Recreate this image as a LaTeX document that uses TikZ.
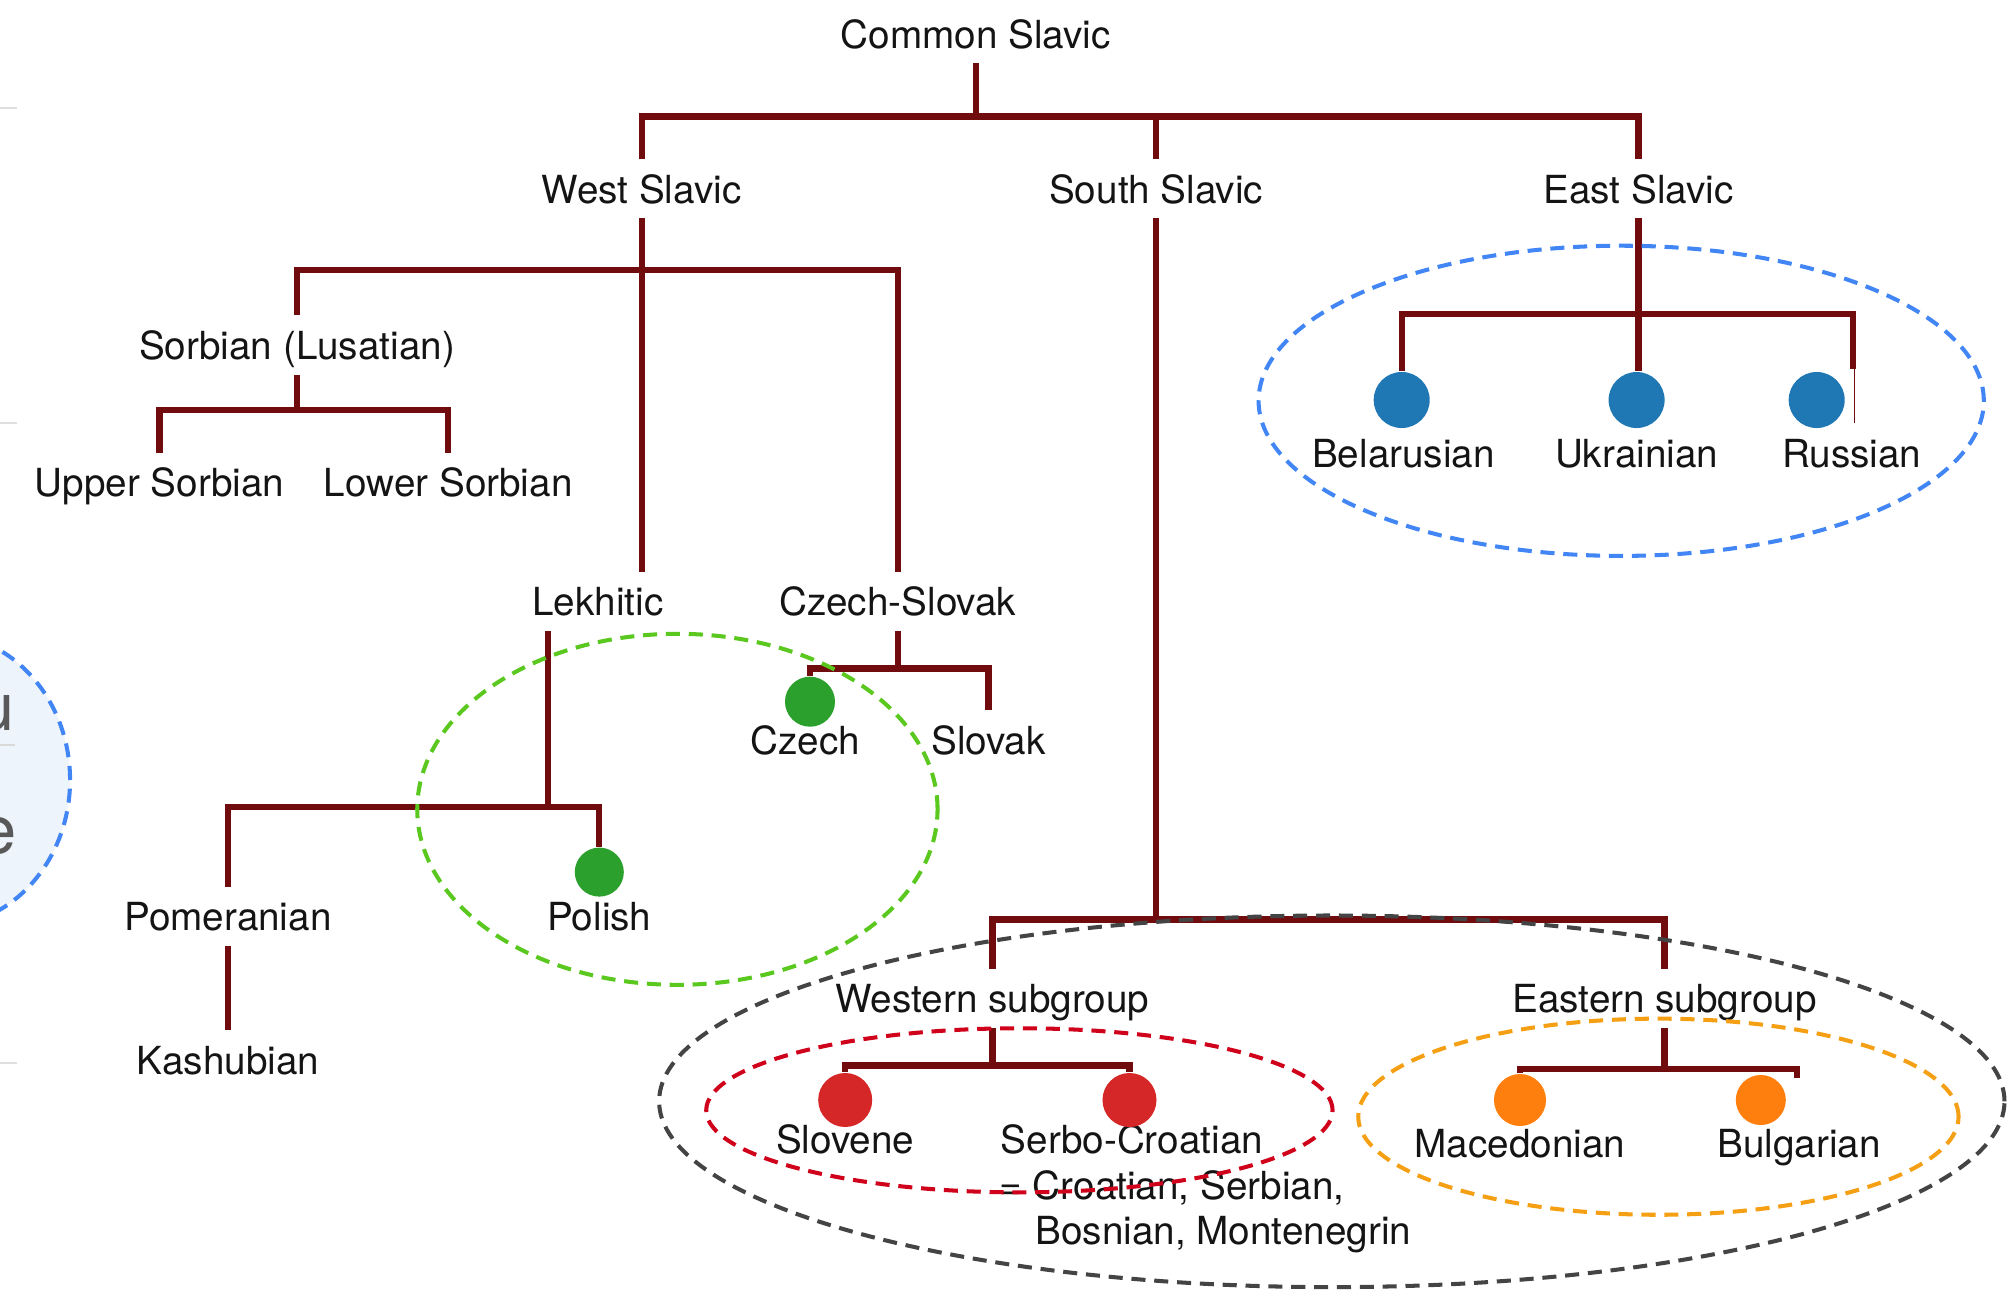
\documentclass[tikz,border=0pt]{standalone}
\usepackage{fontspec}
\setmainfont{TeX Gyre Heros}
\definecolor{tree}{RGB}{112,12,14}
\definecolor{dblue}{RGB}{31,119,180}
\definecolor{dgreen}{RGB}{44,160,44}
\definecolor{dred}{RGB}{214,39,40}
\definecolor{dorange}{RGB}{255,127,14}
\definecolor{eblue}{RGB}{66,133,244}
\definecolor{egreen}{RGB}{90,200,30}
\definecolor{ered}{RGB}{208,2,27}
\definecolor{eorange}{RGB}{245,160,20}
\definecolor{egray}{RGB}{68,68,68}
\definecolor{lightbg}{RGB}{238,244,251}
\tikzset{
  lbl/.style={font=\fontsize{11}{13}\selectfont, text=black!92, anchor=base,
    inner xsep=2pt, inner ysep=4pt, text height=8.4pt, text depth=0pt},
  lblw/.style={lbl, anchor=base west, inner xsep=0pt},
  branch/.style={draw=tree, line width=1.75pt},
  langdot/.style={circle, inner sep=0pt, minimum size=#1},
  grp/.style={dash pattern=on 4pt off 2.5pt, line width=1.15pt},
  edgetxt/.style={font=\fontsize{19}{22}\selectfont, text=black!65, inner sep=0pt, anchor=base east},
}
\begin{document}
\begin{tikzpicture}[x=0.01cm, y=-0.01cm]
\useasboundingbox (0,0) rectangle (2008,1290);

% partial item at the left edge
\begin{scope}
  \clip (0,0) rectangle (2008,1290);
  \draw[grp, draw=eblue, fill=lightbg] (-60,780) ellipse [x radius=1.30cm, y radius=1.46cm];
  \node[edgetxt] (lu) at (15,730) {u};
  \node[edgetxt] (le) at (17,853) {e};
  \draw[black!15, line width=0.5pt] (0,745) -- (15,745);
\end{scope}
\draw[black!12, line width=0.6pt] (0,108) -- (17,108);
\draw[black!12, line width=0.6pt] (0,423) -- (17,423);
\draw[black!12, line width=0.6pt] (0,1063) -- (17,1063);

% labels
\node[lbl] (cs) at (975.8,48.6) {Common Slavic};
\node[lbl] (ws) at (641.6,203.5) {West Slavic};
\node[lbl] (ss) at (1156.2,203.5) {South Slavic};
\node[lbl] (es) at (1638.5,203.5) {East Slavic};
\node[lbl] (sorb) at (297.1,359.8) {Sorbian (Lusatian)};
\node[lbl] (us) at (159.5,496.8) {Upper Sorbian};
\node[lbl] (ls) at (448.2,496.8) {Lower Sorbian};
\node[lbl] (lek) at (598,615.9) {Lekhitic};
\node[lbl] (czs) at (897.7,615.9) {Czech-Slovak};
\node[lbl] (pom) at (227.9,930.9) {Pomeranian};
\node[lbl] (pol) at (599.3,930.9) {Polish};
\node[lbl] (kash) at (227.9,1074) {Kashubian};
\node[lbl] (cz) at (805.5,754.2) {Czech};
\node[lbl] (sk) at (988.5,754.2) {Slovak};
\node[lbl] (wsg) at (992.5,1012.9) {Western subgroup};
\node[lbl] (esg) at (1664.5,1012.9) {Eastern subgroup};
\node[lbl] (slo) at (845.2,1153.7) {Slovene};
\node[lbl] (sc) at (1132,1153.7) {Serbo-Croatian};
\node[lblw] (sc2) at (998.9,1199.5) {= Croatian, Serbian,};
\node[lblw] (sc3) at (1034.7,1244.5) {Bosnian, Montenegrin};
\node[lbl] (mac) at (1520,1157.6) {Macedonian};
\node[lbl] (bul) at (1799.2,1157.6) {Bulgarian};
\node[lbl] (bel) at (1403.5,467.3) {Belarusian};
\node[lbl] (ukr) at (1636.6,467.3) {Ukrainian};
\node[lbl] (rus) at (1851.7,467.3) {Russian};

% dots
\node[langdot=0.50cm, fill=dgreen] (czdot) at (810,701.7) {};
\node[langdot=0.49cm, fill=dgreen] (poldot) at (599.3,872.1) {};
\node[langdot=0.54cm, fill=dred] (slodot) at (845.2,1100) {};
\node[langdot=0.54cm, fill=dred] (scdot) at (1129.5,1100) {};
\node[langdot=0.52cm, fill=dorange] (macdot) at (1520,1100) {};
\node[langdot=0.50cm, fill=dorange] (buldot) at (1760.8,1100) {};
\node[langdot=0.56cm, fill=dblue] (beldot) at (1401.7,400) {};
\node[langdot=0.56cm, fill=dblue] (ukrdot) at (1636.6,400) {};
\node[langdot=0.56cm, fill=dblue] (rusdot) at (1816.7,400) {};

% junctions
\coordinate (j0) at (975.8,116.5);
\coordinate (j1) at (641.6,270.2);
\coordinate (j2) at (297.1,409.8);
\coordinate (j3) at (548.1,806.8);
\coordinate (j4) at (897.7,668.5);
\coordinate (j5) at (1156.2,919.5);
\coordinate (j6) at (992.5,1065.5);
\coordinate (j7) at (1664.5,1069.3);
\coordinate (j8) at (1638.5,313.7);
\coordinate (bultick) at (1796.7,1078);
\coordinate (rusend) at (1852.7,369.3);
\coordinate (rusthin) at (1854.6,422.7);

% tree
\draw[branch] (cs.south) -- (j0);
\draw[branch] (ws.north) |- (j0) -| (es.north);
\draw[branch] (j0) -| (ss.north);

\draw[branch] (ws.south) -- (ws.south |- lek.north);
\draw[branch] (sorb.north) |- (j1) -| (czs.north);

\draw[branch] (sorb.south) -- (j2);
\draw[branch] (us.north) |- (j2) -| (ls.north);

\draw[branch] (lek.south -| j3) -- (j3);
\draw[branch] (pom.north) |- (j3) -| (poldot.north);
\draw[branch] (pom.south) -- (kash.north);

\draw[branch] (czs.south) -- (j4);
\draw[branch] (czdot.north) |- (j4) -| (sk.north);

\draw[branch] (ss.south) -- (j5);
\draw[branch] (wsg.north) |- (j5) -| (esg.north);

\draw[branch] (wsg.south) -- (j6);
\draw[branch] (slodot.north) |- (j6) -| (scdot.north);

\draw[branch] (esg.south) -- (j7);
\draw[branch] (macdot.north) |- (j7) -| (bultick);

\draw[branch] (es.south) -- (j8);
\draw[branch] (beldot.north) |- (j8) -| (rusend);
\draw[branch] (j8) -- (j8 |- ukrdot.north);
\draw[draw=tree, line width=0.5pt] (rusthin |- rusend) -- (rusthin);

% groups
\draw[grp, draw=eblue] (1621.2,400.8) ellipse [x radius=3.624cm, y radius=1.55cm];
\draw[grp, draw=egreen] (677.4,809.3) ellipse [x radius=2.60cm, y radius=1.754cm];
\draw[grp, draw=ered] (1019.4,1110.3) ellipse [x radius=3.13cm, y radius=0.82cm];
\draw[grp, draw=eorange] (1658.4,1116.7) ellipse [x radius=3.0cm, y radius=0.98cm];
\draw[grp, draw=egray] (1331.8,1101.3) ellipse [x radius=6.723cm, y radius=1.857cm];
\end{tikzpicture}
\end{document}
